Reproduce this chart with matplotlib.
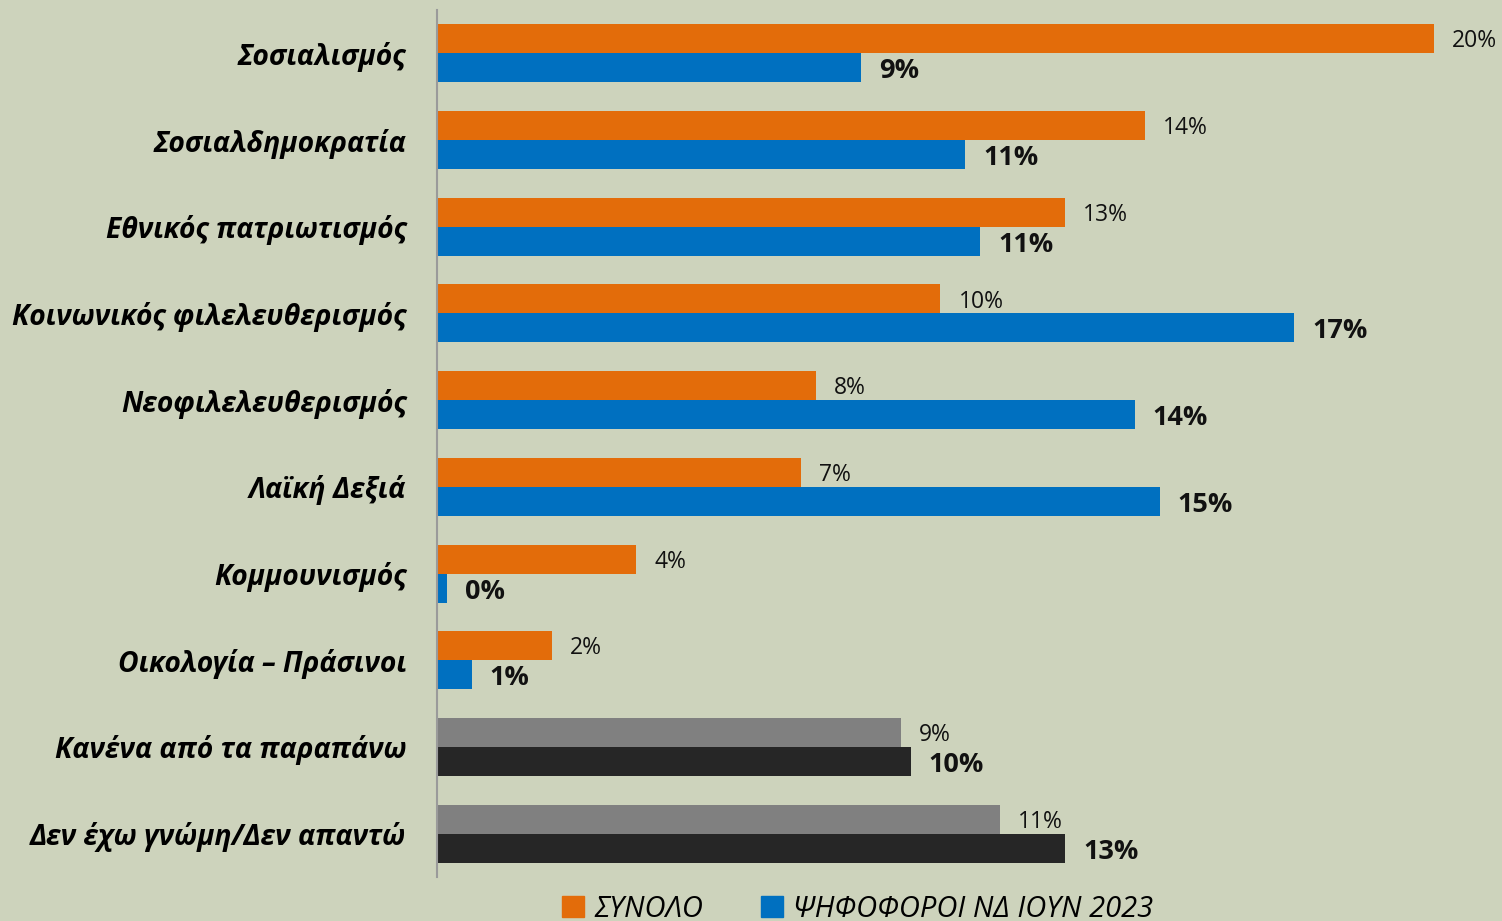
import matplotlib
matplotlib.use("Agg")
import matplotlib.pyplot as plt
from matplotlib.patches import Patch

categories = ["Σοσιαλισμός", "Σοσιαλδημοκρατία", "Εθνικός πατριωτισμός",
              "Κοινωνικός φιλελευθερισμός", "Νεοφιλελευθερισμός", "Λαϊκή Δεξιά",
              "Κομμουνισμός", "Οικολογία – Πράσινοι", "Κανένα από τα παραπάνω",
              "Δεν έχω γνώμη/Δεν απαντώ"]
total_values = [20.0, 14.2, 12.6, 10.1, 7.6, 7.3, 4.0, 2.3, 9.3, 11.3]
nd_values = [8.5, 10.6, 10.9, 17.2, 14.0, 14.5, 0.2, 0.7, 9.5, 12.6]
total_labels = ["20%", "14%", "13%", "10%", "8%", "7%", "4%", "2%", "9%", "11%"]
nd_labels = ["9%", "11%", "11%", "17%", "14%", "15%", "0%", "1%", "10%", "13%"]
legend_labels = ["ΣΥΝΟΛΟ", "ΨΗΦΟΦΟΡΟΙ ΝΔ ΙΟΥΝ 2023"]

BG = "#CDD3BC"
ORANGE = "#E36C0A"
BLUE = "#0070C0"
GRAY = "#808080"
DARK = "#262626"

fig = plt.figure(figsize=(15.02, 9.21), dpi=100, facecolor=BG)
ax = fig.add_axes([437/1502, 1 - 877/921, 1 - 437/1502, (877 - 10)/921])
ax.set_facecolor(BG)

n = len(categories)
ys = list(range(n))
h = 0.335
c1 = [ORANGE] * 8 + [GRAY] * 2
c2 = [BLUE] * 8 + [DARK] * 2
ax.barh([y - h/2 for y in ys], total_values, height=h, color=c1)
ax.barh([y + h/2 for y in ys], nd_values, height=h, color=c2)

off = 0.36
for y, v, lab in zip(ys, total_values, total_labels):
    ax.text(v + off, y - h/2 + 0.03, lab, va="center", ha="left", fontsize=16.5,
            family="Open Sans", color="#111111")
for y, v, lab in zip(ys, nd_values, nd_labels):
    ax.text(v + off, y + h/2 + 0.04, lab, va="center", ha="left", fontsize=19.5,
            family="Open Sans", fontweight="bold", color="#111111")

ax.set_xlim(0, 1065/49.85)
ax.set_ylim(n - 0.5, -0.5)
ax.set_xticks([])
ax.set_yticks(ys)
ax.set_yticklabels(categories, fontsize=20.3, family="Open Sans",
                   fontweight="bold", fontstyle="italic")
ax.tick_params(axis="y", length=0, pad=22)
for s in ["top", "right", "bottom"]:
    ax.spines[s].set_visible(False)
ax.spines["left"].set_color("#9A9A9A")
ax.spines["left"].set_linewidth(1.5)

handles = [Patch(color=ORANGE), Patch(color=BLUE)]
fig.legend(handles, legend_labels, loc="center", bbox_to_anchor=(0.571, 0.013),
           ncol=2, frameon=False, handlelength=0.75, handleheight=0.75,
           handletextpad=0.35, columnspacing=2.0,
           prop={"family": "Open Sans", "style": "italic", "size": 21})

fig.savefig("out.png", dpi=100, facecolor=BG)
